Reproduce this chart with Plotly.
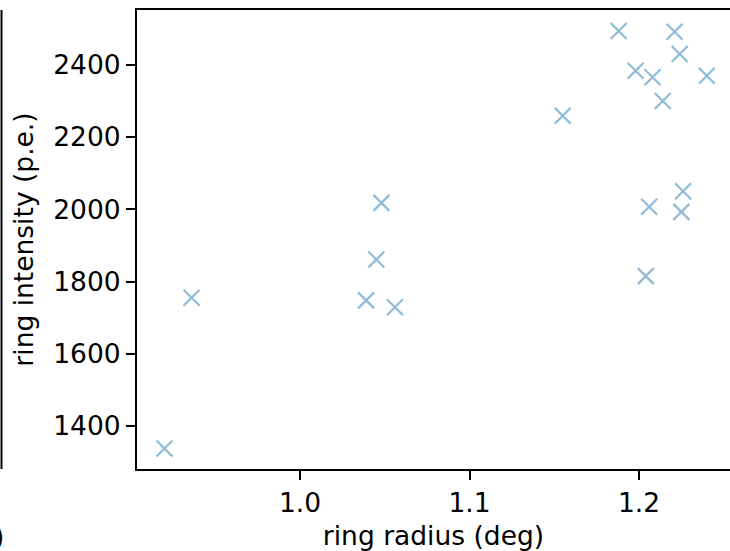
import plotly.graph_objects as go

# ring radius (deg) and ring intensity (p.e.) per event
ring_radius = [0.920, 0.936, 1.039, 1.045, 1.048, 1.056, 1.155, 1.188, 1.198,
               1.208, 1.214, 1.221, 1.224, 1.240, 1.206, 1.226, 1.225, 1.204]
ring_intensity = [1338, 1755, 1748, 1861, 2018, 1729, 2259, 2494, 2384,
                  2366, 2300, 2492, 2430, 2370, 2007, 2050, 1993, 1815]

x_ticks = [1.0, 1.1, 1.2]
y_ticks = [1400, 1600, 1800, 2000, 2200, 2400]

font = dict(family="DejaVu Sans", size=26.5, color="black")

fig = go.Figure()
fig.add_trace(go.Scatter(
    x=ring_radius, y=ring_intensity, mode="markers",
    marker=dict(symbol="x-thin", size=16, color="rgba(31,119,180,0.5)",
                line=dict(width=2.2, color="rgba(31,119,180,0.5)")),
    showlegend=False,
))

fig.update_xaxes(
    range=[0.9038, 1.2537], tickvals=x_ticks, ticktext=["1.0", "1.1", "1.2"],
    showgrid=False, zeroline=False, showline=True, linecolor="black", linewidth=2,
    mirror=True, ticks="outside", ticklen=9, tickwidth=2, tickcolor="black",
    tickfont=font, title=dict(text="ring radius (deg)", font=font, standoff=14),
)
fig.update_yaxes(
    range=[1281, 2552], tickvals=y_ticks,
    showgrid=False, zeroline=False, showline=True, linecolor="black", linewidth=2,
    ticks="outside", ticklen=9, tickwidth=2, tickcolor="black",
    tickfont=font, ticklabelstandoff=0,
    title=dict(text="ring intensity (p.e.)", font=font, standoff=12),
)

# edge of the neighbouring panel, cut off at the left
fig.add_shape(type="line", xref="paper", yref="paper",
              x0=-0.2285, x1=-0.2285, y0=0, y1=1,
              line=dict(color="black", width=2))
fig.add_annotation(text=")", xref="paper", yref="paper", x=-0.221, y=-0.146,
                   xanchor="right", yanchor="middle", showarrow=False, font=font)

fig.update_layout(
    width=730, height=551,
    margin=dict(l=137, r=0, t=10, b=82),
    plot_bgcolor="white", paper_bgcolor="white",
)

fig.write_html("out.html", config={"displayModeBar": False},
               post_script="document.body.style.margin='0px';")
